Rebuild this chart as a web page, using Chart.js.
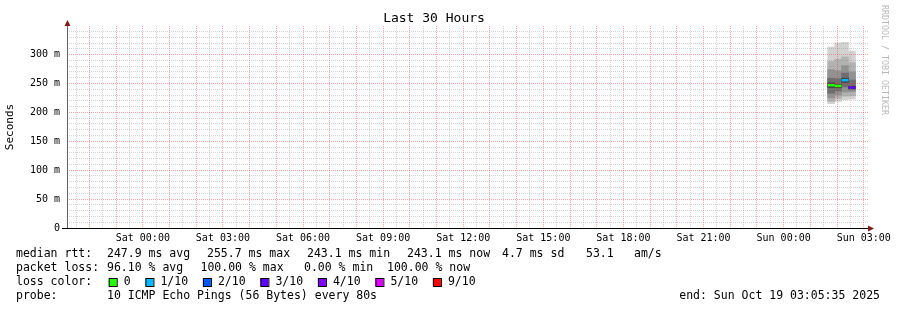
<!DOCTYPE html>
<html>
<head>
<meta charset="UTF-8" />
<title>Last 30 Hours</title>
<script src="https://cdn.jsdelivr.net/npm/chart.js@4.4.1/dist/chart.umd.min.js"></script>
<style>
	body { margin: 0; background: #fff; }
	canvas { display: block; }
</style>
</head>
<body>
<canvas id="myChart" width="897" height="310"></canvas>
<script>
// x values are hours counted from Sat 00:00
const xMin = -2.84;
const xMax = 27.16;
const xTickHours = [0, 3, 6, 9, 12, 15, 18, 21, 24, 27];
const xTickLabels = ['Sat 00:00', 'Sat 03:00', 'Sat 06:00', 'Sat 09:00', 'Sat 12:00',
	'Sat 15:00', 'Sat 18:00', 'Sat 21:00', 'Sun 00:00', 'Sun 03:00'];
const yTickValues = [0, 50, 100, 150, 200, 250, 300];
const yTickLabels = ['0', '50 m', '100 m', '150 m', '200 m', '250 m', '300 m'];

// the rounds that came back near the end (centre time of each column)
const roundTimes = [25.78, 26.04, 26.30, 26.56];
// sorted ping times of each round, ms
const round1Pings = [215, 219, 225, 233, 243, 251, 259, 274, 288, 313];
const round2Pings = [219, 224, 230, 237, 243, 248.6, 258, 272, 292, 320];
const round3Pings = [222, 228, 235, 244, 252, 259.4, 268, 281, 296, 321];
const round4Pings = [223, 229, 236, 239, 241, 245.2, 256, 270, 286, 306];
const roundMedians = [247.0, 245.8, 255.7, 243.1];
const roundLoss = [0, 0, 1, 3];

const lossSteps = [0, 1, 2, 3, 4, 5, 9];
const lossLabels = ['0', '1/10', '2/10', '3/10', '4/10', '5/10', '9/10'];
const lossColors = ['#26ff00', '#00b8ff', '#0059ff', '#5e00ff', '#7e00ff', '#dd00ff', '#ff0000'];

const rttStats = ['247.9 ms avg', '255.7 ms max', '243.1 ms min', '243.1 ms now', '4.7 ms sd', '53.1', 'am/s'];
const lossStats = ['96.10 % avg', '100.00 % max', '0.00 % min', '100.00 % now'];
const probeText = '10 ICMP Echo Pings (56 Bytes) every 80s';
const endText = 'end: Sun Oct 19 03:05:35 2025';

const MONO = "'DejaVu Sans Mono', monospace";
const allPings = [round1Pings, round2Pings, round3Pings, round4Pings];
const smokeGrays = ['#d2d2d2', '#b2b2b2', '#929292', '#6e6e6e', '#3e3e3e'];
const roundWidth = roundTimes[1] - roundTimes[0];

const datasets = [];
// median lines, coloured by loss
roundTimes.forEach((t, i) => {
	datasets.push({
		type: 'line',
		data: [{x: t - roundWidth / 2, y: roundMedians[i]}, {x: t + roundWidth / 2, y: roundMedians[i]}],
		borderColor: lossColors[lossSteps.indexOf(roundLoss[i])],
		borderWidth: 2.5,
		pointRadius: 0,
		order: 0
	});
});
// smoke: band k spans ping k .. ping 10-k
for (let k = 0; k < 5; k++) {
	datasets.push({
		type: 'bar',
		data: roundTimes.map((t, i) => ({x: t, y: [allPings[i][k], allPings[i][9 - k]]})),
		backgroundColor: smokeGrays[k],
		borderWidth: 0,
		barPercentage: 1,
		categoryPercentage: 1,
		grouped: false,
		order: 10 - k
	});
}

const gray = 'rgba(140,140,140,0.38)';
const red = 'rgba(230,40,40,0.42)';

const rrdDecor = {
	id: 'rrdDecor',
	afterDraw(chart) {
		const ctx = chart.ctx;
		const a = chart.chartArea;
		ctx.save();
		// axes
		ctx.strokeStyle = '#666';
		ctx.lineWidth = 1;
		ctx.beginPath();
		ctx.moveTo(a.left + 0.5, a.bottom);
		ctx.lineTo(a.left + 0.5, a.top - 1);
		ctx.stroke();
		ctx.strokeStyle = '#000';
		ctx.beginPath();
		ctx.moveTo(a.left - 5, a.bottom + 0.5);
		ctx.lineTo(a.right + 1, a.bottom + 0.5);
		ctx.stroke();
		ctx.fillStyle = '#7f1d1d';
		ctx.beginPath();
		ctx.moveTo(a.left + 0.5, a.top - 6);
		ctx.lineTo(a.left + 3.5, a.top);
		ctx.lineTo(a.left - 2.5, a.top);
		ctx.fill();
		ctx.beginPath();
		ctx.moveTo(a.right + 6, a.bottom + 0.5);
		ctx.lineTo(a.right, a.bottom - 2.5);
		ctx.lineTo(a.right, a.bottom + 3.5);
		ctx.fill();

		// watermark
		ctx.save();
		ctx.translate(884, 5);
		ctx.rotate(Math.PI / 2);
		ctx.font = '8.3px ' + MONO;
		ctx.fillStyle = '#b8b8b8';
		ctx.textBaseline = 'middle';
		ctx.fillText('RRDTOOL / TOBI OETIKER', 0, 0);
		ctx.restore();

		// legend text
		ctx.font = '11.5px ' + MONO;
		ctx.fillStyle = '#000';
		ctx.textBaseline = 'middle';
		const rttX = [107, 207, 307, 407, 502, 586, 634];
		ctx.fillText('median rtt:', 16, 254);
		rttStats.forEach((s, i) => ctx.fillText(s, rttX[i], 254));
		const lossX = [107, 200.5, 304, 387];
		ctx.fillText('packet loss:', 16, 268);
		lossStats.forEach((s, i) => ctx.fillText(s, lossX[i], 268));
		ctx.fillText('loss color:', 16, 282);
		let x = 108.7;
		lossLabels.forEach((s, i) => {
			ctx.fillStyle = lossColors[i];
			ctx.fillRect(x, 278, 8, 8);
			ctx.strokeStyle = '#000';
			ctx.strokeRect(x + 0.5, 278.5, 8, 8);
			ctx.fillStyle = '#000';
			ctx.fillText(s, x + 15, 282);
			x += 15 + ctx.measureText(s).width + 14.8;
		});
		ctx.fillText('probe:', 16, 296);
		ctx.fillText(probeText, 107, 296);
		ctx.textAlign = 'right';
		ctx.fillText(endText, 880, 296);
		ctx.restore();
	}
};

const ctx = document.getElementById('myChart').getContext('2d');
const myChart = new Chart(ctx, {
	type: 'bar',
	data: { datasets: datasets },
	options: {
		responsive: false,
		animation: false,
		events: [],
		layout: { padding: { left: 0, right: 29, top: 0, bottom: 62 } },
		plugins: {
			legend: { display: false },
			tooltip: { enabled: false },
			title: {
				display: true,
				text: 'Last 30 Hours',
				color: '#000',
				font: { family: MONO, size: 13, weight: 'normal', lineHeight: 1.15 },
				padding: { top: 11, bottom: 0 }
			}
		},
		scales: {
			x: {
				type: 'linear',
				min: xMin,
				max: xMax,
				offset: false,
				afterFit: s => { s.height = 20; },
				afterBuildTicks: s => {
					const t = [];
					for (let v = Math.ceil(xMin * 2) / 2; v <= xMax; v += 0.5) t.push({value: v});
					s.ticks = t;
				},
				grid: {
					offset: false,
					drawTicks: false,
					z: 1,
					color: c => Number.isInteger(c.tick.value) ? red : gray
				},
				border: { display: false, dash: [1, 1] },
				ticks: {
					autoSkip: false,
					maxRotation: 0,
					padding: 4,
					color: '#000',
					font: { family: MONO, size: 10 },
					callback: v => {
						const i = xTickHours.indexOf(v);
						return i >= 0 ? xTickLabels[i] : '';
					}
				}
			},
			y: {
				min: 0,
				max: 349.5,
				afterFit: s => { s.width = 67; },
				afterBuildTicks: s => {
					const t = [];
					for (let v = 0; v <= 340; v += 10) t.push({value: v});
					s.ticks = t;
				},
				grid: {
					drawTicks: false,
					z: 1,
					color: c => c.tick.value === 0 ? 'rgba(0,0,0,0)' : (c.tick.value % 50 === 0 ? red : gray)
				},
				border: { display: false, dash: [1, 1] },
				title: {
					display: true,
					text: 'Seconds',
					color: '#000',
					font: { family: MONO, size: 11 },
					padding: { top: 4, bottom: 0 }
				},
				ticks: {
					autoSkip: false,
					padding: 7,
					color: '#000',
					font: { family: MONO, size: 10 },
					callback: v => {
						const i = yTickValues.indexOf(v);
						return i >= 0 ? yTickLabels[i] : '';
					}
				}
			}
		}
	},
	plugins: [rrdDecor]
});
</script>
</body>
</html>
